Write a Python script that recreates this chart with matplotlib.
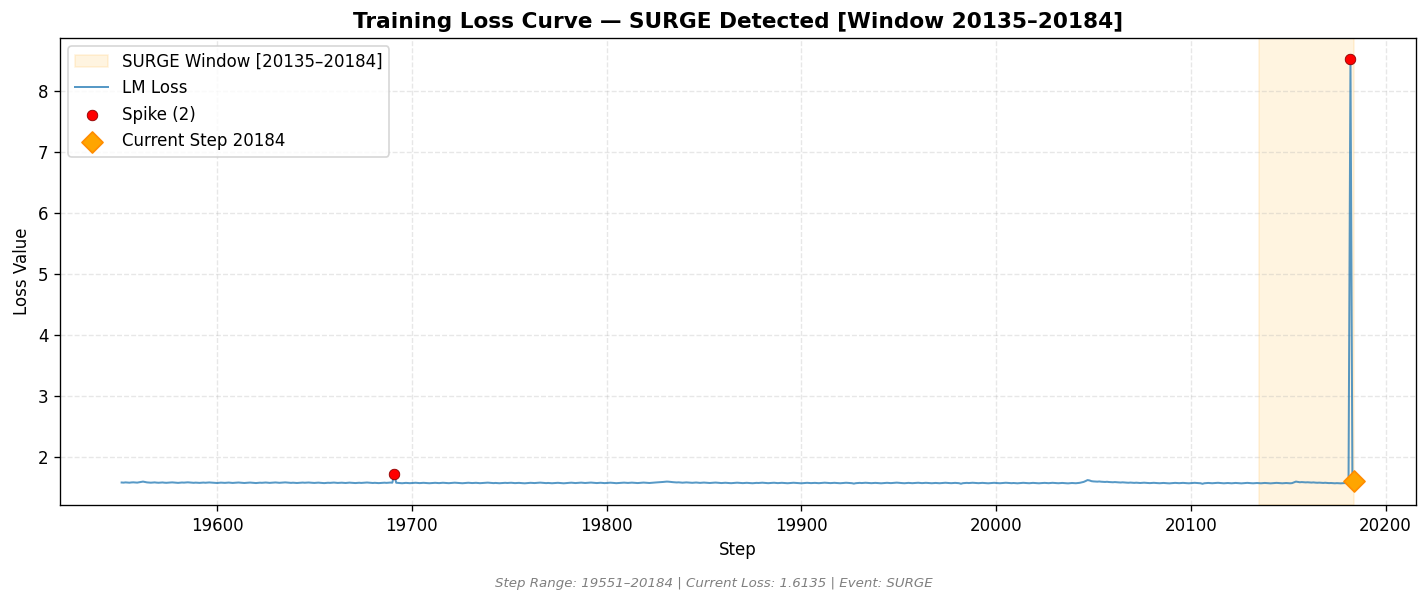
import matplotlib
matplotlib.use("Agg")
import matplotlib.pyplot as plt
import numpy as np

STEP_START = 19551
WINDOW_START = 20135
WINDOW_END = 20184
SPIKE_STEPS = [19691, 20182]
EVENT = "SURGE"

# loss por passo (19551 ... 20184)
loss = [
    1.588, 1.586, 1.590, 1.587, 1.585, 1.589, 1.591, 1.588, 1.586, 1.592, 1.598, 1.603, 1.596, 1.590, 1.587, 1.585, 1.588, 1.590, 1.586, 1.584,
    1.587, 1.589, 1.585, 1.583, 1.586, 1.588, 1.590, 1.587, 1.584, 1.582, 1.585, 1.588, 1.586, 1.589, 1.591, 1.588, 1.585, 1.583, 1.586, 1.584,
    1.582, 1.585, 1.587, 1.584, 1.586, 1.589, 1.587, 1.585, 1.583, 1.580, 1.583, 1.586, 1.584, 1.582, 1.585, 1.587, 1.584, 1.581, 1.583, 1.586,
    1.588, 1.585, 1.582, 1.580, 1.583, 1.585, 1.587, 1.584, 1.581, 1.579, 1.582, 1.585, 1.583, 1.586, 1.588, 1.585, 1.582, 1.584, 1.587, 1.589,
    1.586, 1.583, 1.585, 1.588, 1.590, 1.587, 1.584, 1.582, 1.585, 1.583, 1.580, 1.582, 1.585, 1.587, 1.584, 1.586, 1.588, 1.585, 1.583, 1.581,
    1.584, 1.586, 1.583, 1.580, 1.578, 1.581, 1.584, 1.582, 1.585, 1.587, 1.584, 1.581, 1.583, 1.585, 1.582, 1.580, 1.583, 1.586, 1.584, 1.582,
    1.579, 1.582, 1.584, 1.581, 1.583, 1.586, 1.588, 1.585, 1.582, 1.580, 1.583, 1.581, 1.578, 1.580, 1.583, 1.585, 1.582, 1.584, 1.587, 1.585,
    1.721, 1.584, 1.581, 1.578, 1.576, 1.579, 1.582, 1.580, 1.577, 1.579, 1.582, 1.584, 1.581, 1.578, 1.580, 1.583, 1.581, 1.579, 1.576, 1.578,
    1.581, 1.583, 1.580, 1.578, 1.581, 1.584, 1.582, 1.579, 1.577, 1.580, 1.582, 1.585, 1.583, 1.580, 1.578, 1.576, 1.579, 1.581, 1.584, 1.582,
    1.579, 1.581, 1.583, 1.580, 1.577, 1.579, 1.582, 1.584, 1.586, 1.583, 1.580, 1.578, 1.581, 1.579, 1.576, 1.578, 1.581, 1.583, 1.580, 1.582,
    1.584, 1.581, 1.578, 1.580, 1.582, 1.579, 1.577, 1.575, 1.578, 1.580, 1.583, 1.581, 1.579, 1.582, 1.584, 1.586, 1.583, 1.580, 1.578, 1.581,
    1.579, 1.576, 1.578, 1.581, 1.583, 1.580, 1.577, 1.575, 1.578, 1.581, 1.583, 1.585, 1.582, 1.579, 1.581, 1.584, 1.586, 1.583, 1.580, 1.582,
    1.585, 1.587, 1.584, 1.581, 1.579, 1.582, 1.584, 1.581, 1.578, 1.580, 1.583, 1.585, 1.583, 1.580, 1.577, 1.579, 1.582, 1.584, 1.586, 1.583,
    1.581, 1.583, 1.586, 1.584, 1.581, 1.579, 1.582, 1.584, 1.587, 1.585, 1.582, 1.580, 1.583, 1.586, 1.588, 1.590, 1.592, 1.594, 1.597, 1.600,
    1.603, 1.601, 1.597, 1.594, 1.592, 1.589, 1.591, 1.588, 1.585, 1.587, 1.590, 1.588, 1.585, 1.583, 1.586, 1.588, 1.585, 1.582, 1.584, 1.587,
    1.585, 1.582, 1.580, 1.583, 1.585, 1.587, 1.584, 1.581, 1.579, 1.582, 1.584, 1.581, 1.579, 1.577, 1.580, 1.582, 1.585, 1.583, 1.580, 1.578,
    1.581, 1.583, 1.580, 1.578, 1.576, 1.579, 1.582, 1.580, 1.583, 1.585, 1.582, 1.579, 1.577, 1.580, 1.582, 1.584, 1.581, 1.578, 1.580, 1.583,
    1.581, 1.578, 1.576, 1.579, 1.581, 1.584, 1.582, 1.579, 1.577, 1.575, 1.578, 1.580, 1.583, 1.581, 1.578, 1.580, 1.582, 1.579, 1.577, 1.580,
    1.582, 1.585, 1.583, 1.580, 1.578, 1.581, 1.583, 1.580, 1.578, 1.576, 1.579, 1.581, 1.584, 1.582, 1.579, 1.577, 1.570, 1.577, 1.580, 1.582,
    1.579, 1.581, 1.584, 1.582, 1.579, 1.577, 1.580, 1.582, 1.580, 1.577, 1.575, 1.578, 1.581, 1.583, 1.580, 1.578, 1.581, 1.583, 1.586, 1.583,
    1.580, 1.578, 1.576, 1.579, 1.582, 1.580, 1.577, 1.579, 1.582, 1.584, 1.581, 1.578, 1.580, 1.583, 1.581, 1.578, 1.576, 1.579, 1.581, 1.578,
    1.576, 1.579, 1.582, 1.584, 1.581, 1.579, 1.577, 1.580, 1.582, 1.579, 1.577, 1.568, 1.577, 1.580, 1.582, 1.579, 1.581, 1.584, 1.582, 1.579,
    1.577, 1.580, 1.582, 1.580, 1.577, 1.575, 1.578, 1.581, 1.583, 1.580, 1.578, 1.576, 1.579, 1.581, 1.584, 1.582, 1.579, 1.577, 1.580, 1.578,
    1.575, 1.578, 1.580, 1.583, 1.581, 1.578, 1.576, 1.579, 1.582, 1.580, 1.577, 1.575, 1.578, 1.580, 1.582, 1.579, 1.577, 1.580, 1.583, 1.581,
    1.578, 1.576, 1.579, 1.581, 1.578, 1.576, 1.574, 1.577, 1.580, 1.578, 1.576, 1.579, 1.583, 1.590, 1.598, 1.612, 1.628, 1.622, 1.610, 1.606,
    1.604, 1.602, 1.605, 1.601, 1.599, 1.597, 1.600, 1.596, 1.594, 1.592, 1.595, 1.592, 1.590, 1.588, 1.591, 1.588, 1.586, 1.584, 1.587, 1.584,
    1.582, 1.585, 1.583, 1.580, 1.582, 1.585, 1.582, 1.580, 1.578, 1.581, 1.583, 1.580, 1.578, 1.576, 1.579, 1.581, 1.578, 1.576, 1.574, 1.577,
    1.580, 1.582, 1.579, 1.577, 1.580, 1.582, 1.579, 1.577, 1.575, 1.578, 1.580, 1.583, 1.580, 1.578, 1.576, 1.567, 1.576, 1.579, 1.581, 1.578,
    1.576, 1.579, 1.581, 1.583, 1.580, 1.578, 1.575, 1.578, 1.580, 1.577, 1.575, 1.578, 1.581, 1.579, 1.576, 1.574, 1.577, 1.580, 1.582, 1.579,
    1.577, 1.575, 1.578, 1.580, 1.577, 1.575, 1.578, 1.581, 1.579, 1.576, 1.574, 1.577, 1.579, 1.582, 1.580, 1.577, 1.575, 1.578, 1.580, 1.577,
    1.575, 1.578, 1.590, 1.603, 1.598, 1.592, 1.595, 1.593, 1.590, 1.592, 1.589, 1.587, 1.590, 1.586, 1.584, 1.586, 1.583, 1.581, 1.584, 1.581,
    1.578, 1.580, 1.577, 1.575, 1.578, 1.576, 1.574, 1.577, 1.579, 1.576, 1.574, 8.521, 1.580, 1.6135,
]


def main():
    steps = np.arange(STEP_START, STEP_START + len(loss))
    values = np.array(loss)
    current_step = steps[-1]
    current_loss = values[-1]

    spike_idx = [int(s - STEP_START) for s in SPIKE_STEPS]

    fig, ax = plt.subplots(figsize=(11.9, 6.02 * 1428 / 1428 / 1.2), dpi=120)
    fig.subplots_adjust(left=0.042, right=0.9916, top=0.9369, bottom=0.1611)

    ax.axvspan(WINDOW_START, WINDOW_END, color="orange", alpha=0.12,
               label=f"SURGE Window [{WINDOW_START}\u2013{WINDOW_END}]")
    ax.plot(steps, values, color="#1f77b4", alpha=0.75, linewidth=1.2, label="LM Loss")
    ax.scatter(steps[spike_idx], values[spike_idx], color="red", s=40, zorder=5,
               edgecolors="darkred", linewidths=0.5, label=f"Spike ({len(spike_idx)})")
    ax.scatter([current_step], [current_loss], color="orange", marker="D", s=80, zorder=6,
               edgecolors="darkorange", linewidths=1, label=f"Current Step {current_step}")

    ax.set_title(f"Training Loss Curve \u2014 {EVENT} Detected [Window {WINDOW_START}\u2013{WINDOW_END}]",
                 fontsize=13, fontweight="bold")
    ax.set_xlabel("Step")
    ax.set_ylabel("Loss Value")
    ax.grid(True, linestyle="--", alpha=0.3)
    ax.legend(loc="upper left")

    fig.text(0.5, 0.025,
             f"Step Range: {steps[0]}\u2013{current_step} | Current Loss: {current_loss:.4f} | Event: {EVENT}",
             ha="center", fontsize=8, style="italic", color="gray")

    fig.savefig("out.png", dpi=120)


if __name__ == '__main__':
    main()
